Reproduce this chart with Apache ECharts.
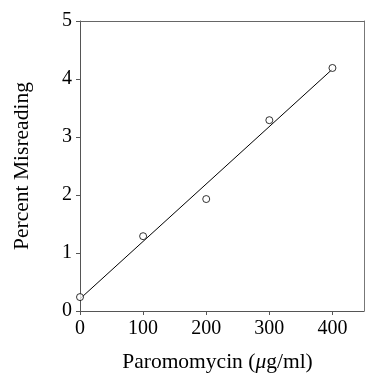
<!DOCTYPE html>
<html>
<head>
<meta charset="utf-8">
<script src="https://cdn.jsdelivr.net/npm/echarts@6/dist/echarts.min.js"></script>
<style>
  html, body { margin: 0; padding: 0; background: #fff; }
  #chart { width: 365px; height: 378px; }
</style>
</head>
<body>
<div id="chart"></div>
<script>
// measured points
const doses = [0, 100, 200, 300, 400]
const misreading = [0.24, 1.29, 1.93, 3.29, 4.19]
// fitted line end points
const fitX = [0, 400]
const fitY = [0.21, 4.17]
// x tick positions
const xTicks = [0, 100, 200, 300, 400]

const chart = echarts.init(document.getElementById('chart'))

const serif = 'Liberation Serif'
const axisColor = '#555'

const option = {
  animation: false,
  grid: { left: 80, top: 21, right: 1, bottom: 66 },
  xAxis: [
    {
      type: 'value',
      min: 0,
      max: 450,
      interval: 100,
      name: '{a|Paromomycin (}{i|μ}{a|g/ml)}',
      nameLocation: 'middle',
      nameGap: 40,
      nameTextStyle: {
        padding: [0, 9, 0, 0],
        rich: {
          a: { fontFamily: serif, fontSize: 21.5, color: '#000' },
          i: { fontFamily: serif, fontSize: 21.5, color: '#000', fontStyle: 'italic' }
        }
      },
      axisLine: { show: true, lineStyle: { color: axisColor, width: 1 } },
      axisTick: { show: true, length: 4, customValues: xTicks, lineStyle: { color: axisColor } },
      axisLabel: {
        fontFamily: serif, fontSize: 20, color: '#000', margin: 8,
        customValues: xTicks
      },
      splitLine: { show: false }
    },
    {
      type: 'value',
      position: 'top',
      min: 0,
      max: 450,
      axisLine: { show: true, onZero: false, lineStyle: { color: '#666', width: 1 } },
      axisTick: { show: false },
      axisLabel: { show: false },
      splitLine: { show: false }
    }
  ],
  yAxis: [
    {
      type: 'value',
      min: 0,
      max: 5,
      interval: 1,
      name: 'Percent Misreading',
      nameLocation: 'middle',
      nameGap: 47,
      nameTextStyle: { fontFamily: serif, fontSize: 21.5, color: '#000' },
      axisLine: { show: true, lineStyle: { color: axisColor, width: 1 } },
      axisTick: { show: true, length: 4, lineStyle: { color: axisColor } },
      axisLabel: { fontFamily: serif, fontSize: 20, color: '#000', margin: 8 },
      splitLine: { show: false }
    },
    {
      type: 'value',
      position: 'right',
      min: 0,
      max: 5,
      axisLine: { show: true, onZero: false, lineStyle: { color: '#777', width: 1 } },
      axisTick: { show: false },
      axisLabel: { show: false },
      splitLine: { show: false }
    }
  ],
  series: [
    {
      type: 'line',
      data: fitX.map((x, i) => [x, fitY[i]]),
      showSymbol: false,
      lineStyle: { color: '#000', width: 1 },
      z: 2
    },
    {
      type: 'scatter',
      data: doses.map((x, i) => [x, misreading[i]]),
      symbol: 'circle',
      symbolSize: 7,
      itemStyle: { color: '#fff', borderColor: '#000', borderWidth: 1 },
      z: 3
    }
  ]
}

chart.setOption(option)
</script>
</body>
</html>
